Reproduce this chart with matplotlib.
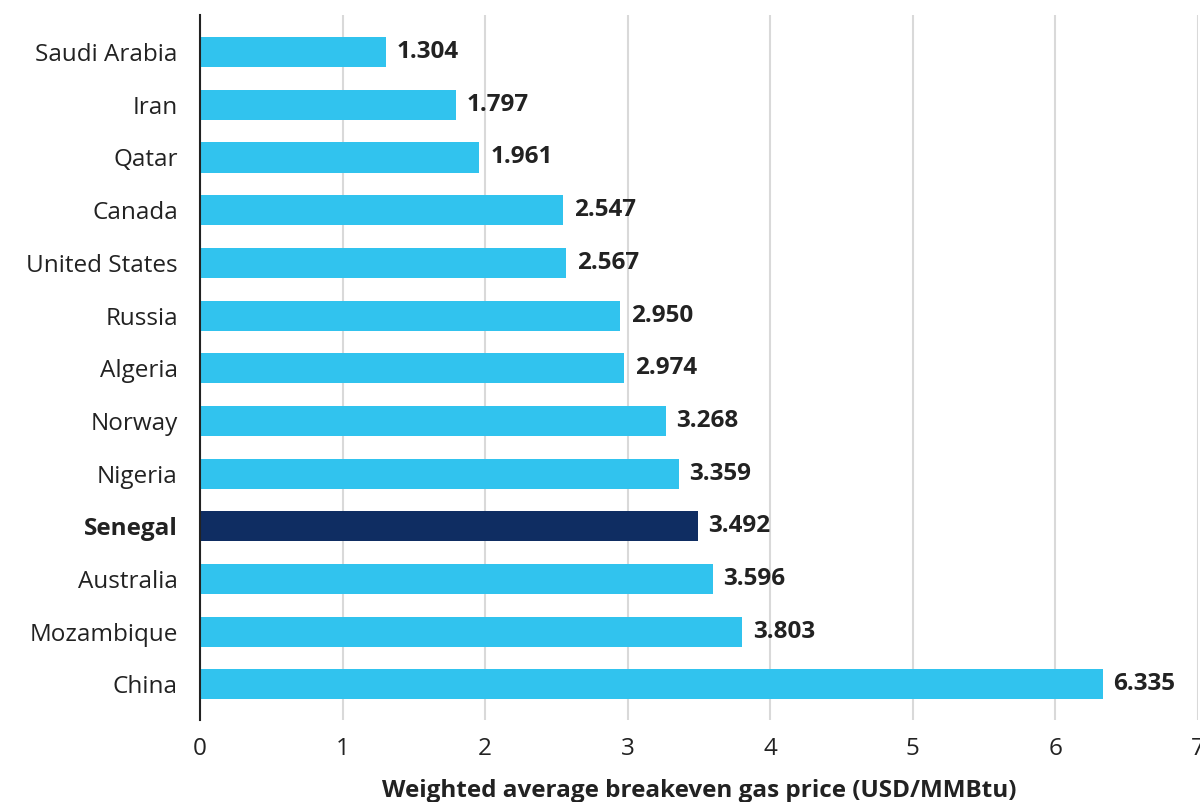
import matplotlib.pyplot as plt

countries = ['Saudi Arabia', 'Iran', 'Qatar', 'Canada', 'United States', 'Russia',
             'Algeria', 'Norway', 'Nigeria', 'Senegal', 'Australia', 'Mozambique', 'China']
prices = [1.304, 1.797, 1.961, 2.547, 2.567, 2.950, 2.974, 3.268, 3.359, 3.492,
          3.596, 3.803, 6.335]
highlight = 'Senegal'
xticks = [0, 1, 2, 3, 4, 5, 6, 7]

plt.rcParams['font.family'] = ['Open Sans', 'DejaVu Sans']
txt = '#222222'
fs = 17.5

fig = plt.figure(figsize=(12, 8.02), dpi=100)
ax = fig.add_axes([0.1667, 0.102, 0.8313, 0.879])

colors = ['#0f2d62' if c == highlight else '#31c3ee' for c in countries]
y = range(len(countries))
ax.barh(y, prices, height=0.57, color=colors, zorder=3)

# value labels at bar ends
for i, v in enumerate(prices):
    ax.text(v + 0.075, i, f'{v:.3f}', va='center', ha='left',
            fontsize=fs, fontweight='bold', color=txt)

ax.set_yticks(list(y))
ax.set_yticklabels(countries, fontsize=fs, color=txt)
for lbl in ax.get_yticklabels():
    if lbl.get_text() == highlight:
        lbl.set_fontweight('bold')
ax.set_ylim(12.68, -0.7)
ax.set_xlim(0, 7)
ax.set_xticks(xticks)
ax.set_xticklabels([str(t) for t in xticks], fontsize=fs, color=txt)
ax.tick_params(axis='x', length=0, pad=12)
ax.tick_params(axis='y', length=0, pad=16)

ax.grid(axis='x', color='#d9d9d9', linewidth=1.5, zorder=0)
for s in ['top', 'right', 'bottom']:
    ax.spines[s].set_visible(False)
ax.spines['left'].set_color('#222222')
ax.spines['left'].set_linewidth(1.5)
ax.spines['left'].set_zorder(4)

ax.set_xlabel('Weighted average breakeven gas price (USD/MMBtu)',
              fontsize=fs, fontweight='bold', color=txt, labelpad=13)

fig.savefig('out.png', dpi=100)
